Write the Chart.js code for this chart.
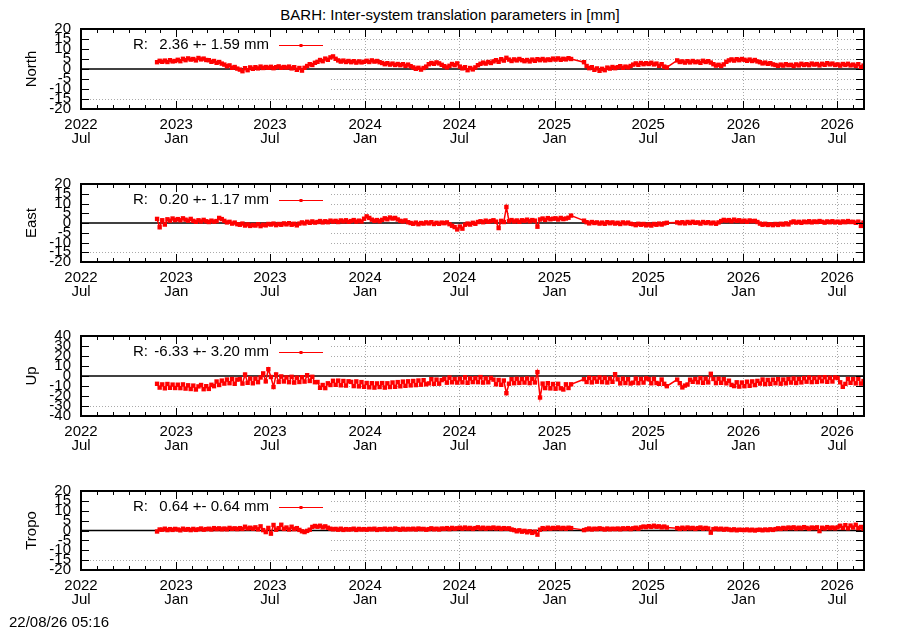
<!DOCTYPE html>
<html>
<head>
<meta charset="utf-8">
<title>BARH inter-system translation parameters</title>
<script src="https://cdn.jsdelivr.net/npm/chart.js@4.4.0/dist/chart.umd.min.js"></script>
<style>
  body { margin: 0; background: #fff; font-family: "Liberation Sans", Arial, sans-serif; }
  #page { position: relative; width: 900px; height: 630px; overflow: hidden; background: #fff; }
  .title { position: absolute; top: 6px; left: 0; width: 900px; text-align: center; font-size: 15px; line-height: 17px; color: #000; }
  .stamp { position: absolute; left: 9px; top: 613px; font-size: 15px; line-height: 17px; color: #000; }
  .panel { position: absolute; left: 0; width: 900px; }
</style>
</head>
<body>
<div id="page">
  <div class="title">BARH: Inter-system translation parameters in [mm]</div>
  <div class="panel" id="p0"><canvas id="c0"></canvas></div>
  <div class="panel" id="p1"><canvas id="c1"></canvas></div>
  <div class="panel" id="p2"><canvas id="c2"></canvas></div>
  <div class="panel" id="p3"><canvas id="c3"></canvas></div>
  <div class="stamp">22/08/26 05:16</div>
</div>
<script>
// x axis: days since 2022-07-01
const xMax = 1513;
const tickDays = [0, 184, 365, 549, 731, 915, 1096, 1280, 1461];
const tickYears = ['2022', '2023', '2023', '2024', '2024', '2025', '2025', '2026', '2026'];
const tickMonths = ['Jul', 'Jan', 'Jul', 'Jan', 'Jul', 'Jan', 'Jul', 'Jan', 'Jul'];

// sampled every 5 days, with two data gaps (Feb 2025, Aug 2025)
const segments = [[147, 947], [972, 1132], [1152, 1512]];
const sampleDays = [];
segments.forEach(([a, b]) => { for (let d = a; d <= b; d += 5) sampleDays.push(d); });

const panelNames = ['North', 'East', 'Up', 'Tropo'];
const keyTexts = ['2.36 +- 1.59 mm', '0.20 +- 1.17 mm', '-6.33 +- 3.20 mm', '0.64 +- 0.64 mm'];
const yRanges = [[-20, 20, 5], [-20, 20, 5], [-40, 40, 10], [-20, 20, 5]];

const north = [
  3.4, 4.1,
  3.6, 4.2, 3.5, 4.4, 3.8, 4.0,
  4.6, 3.9, 5.1, 4.4, 5.3, 4.7,
  5.0, 4.3, 5.5, 4.8, 5.2, 4.5,
  4.4, 3.6, 4.0, 3.1, 3.5, 2.7,
  2.2, 1.4, 1.8, 0.6, 1.0, 0.2,
  -0.3, -1.1, 0.4, -0.6, 0.8, 0.1,
  0.9, 0.3, 1.2, 0.5, 1.0, 0.6,
  1.1, 0.4, 0.9, 1.3, 0.6, 1.0,
  0.7, 1.2, 0.3, 0.9, -0.4, 0.5,
  -0.8, 0.6, 1.5, 2.4, 2.0, 3.1,
  3.6, 4.5, 3.9, 5.2, 4.6, 5.8, 6.3,
  5.1, 4.3, 3.7, 4.2, 3.5, 4.0,
  3.4, 3.9, 3.2, 3.8, 3.3, 3.6,
  4.1, 3.5, 4.3, 3.7, 4.0, 3.4,
  3.0, 2.4, 2.9, 2.2, 2.7, 2.0,
  2.5, 1.9, 2.4, 1.6, 2.2, 1.4,
  0.8, 0.1, 0.6, -0.3, 0.5, 1.2,
  2.4, 3.0, 2.6, 3.3, 2.8, 2.1,
  1.4, 0.8, 1.6, 2.5, 1.9, 2.8,
  1.2, 0.3, 0.9, -0.6, 0.5, -0.2,
  0.8, 1.9, 2.6, 3.2, 2.7, 3.5, 3.0,
  3.8, 4.4, 3.6, 4.9, 4.2, 5.6,
  4.7, 4.0, 4.8, 4.3, 5.0, 4.4,
  3.9, 4.5, 3.8, 4.7, 4.1, 4.9,
  4.4, 5.0, 4.3, 4.8, 4.5, 5.2,
  4.7, 5.3, 4.6, 5.1, 4.8, 5.4,
  5.0,
  3.4,
  1.5, 0.4, 0.9, -0.4, 0.3, -0.9,
  0.1, -0.6, 0.7, 0.2, 1.0, 0.4,
  0.9, 1.4, 0.6, 1.2, 0.8, 1.5,
  2.2, 2.8, 2.1, 3.0, 2.4, 2.9,
  2.5, 3.1, 2.3, 2.7, 1.6, 2.4,
  1.2, 0.8,
  4.3, 3.5,
  3.8, 3.2, 3.9, 3.3, 4.0, 3.4,
  3.7, 3.1, 4.1, 3.5, 3.9, 3.2,
  2.4, 1.7, 2.1, 1.5, 2.3, 3.6,
  4.3, 4.8, 4.2, 4.9, 4.4, 5.0,
  4.6, 4.1, 4.7, 4.0, 4.5, 3.8,
  3.4, 2.8, 3.2, 2.6, 2.9, 2.3,
  2.0, 1.6, 2.2, 1.7, 2.4, 1.9,
  2.1, 1.5, 2.3, 1.8, 2.6, 2.0,
  2.4, 1.9, 2.7, 2.2, 2.5, 1.8,
  2.6, 2.1, 2.9, 2.3, 2.7, 2.0,
  2.3, 1.7, 2.5, 2.0, 2.6, 1.8,
  2.2, 1.6, 2.4, 0.9, 1.7
];

const east = [
  2.1, -2.2,
  1.4, -0.8, 1.9, 1.2, 2.3, 1.5,
  2.0, 1.4, 2.4, 1.7, 1.2, 2.1,
  1.1, 0.6, 1.4, 0.8, 1.6, 0.9,
  0.5, 1.2, 0.7, 1.0, 2.6, 2.0,
  1.1, 0.3, 0.6, -0.3, 0.2, -0.6,
  -0.9, -0.3, -1.3, -0.7, -1.5, -1.0,
  -1.3, -0.6, -1.6, -0.9, -1.2, -0.5,
  -0.8, -0.3, -1.1, -0.5, -0.9, -0.2,
  -0.7, -0.1, -0.9, -0.4, -1.2, -0.3,
  0.3, -0.2, 0.6, 0.1, 0.8, 0.2,
  0.5, 1.0, 0.3, 0.9, 0.4, 1.2, 0.7,
  1.1, 0.5, 1.3, 0.8, 1.4, 0.6,
  1.0, 1.5, 0.7, 1.2, 0.8, 2.2,
  3.4, 2.6, 1.7, 1.1, 1.5, 0.9,
  1.6, 2.4, 1.9, 2.8, 2.3, 2.6,
  1.8, 1.1, 0.8, 1.3, 0.4, 0.0,
  -0.4, 0.2, -0.6, 0.0, -0.3, 0.3,
  -0.2, 0.4, -0.5, 0.1, -0.4, 0.2,
  -0.1, 0.3, -0.6, -1.4, -2.1, -3.3,
  -1.8, -2.9, -0.9, -0.3, -0.8, 0.1,
  -0.4, 0.5, 0.9, 0.4, 1.2, 0.6, 1.0,
  1.4, 0.7, -2.6, 1.1, 0.5, 8.2,
  0.9, 1.5, 0.8, 1.3, 0.6, 1.4,
  1.1, 1.7, 0.9, 1.5, 1.2, -1.9,
  1.8, 2.3, 1.6, 2.5, 1.9, 2.2,
  2.4, 1.8, 2.6, 2.0, 2.3, 2.7,
  3.8,
  1.2,
  0.4, -0.2, 0.5, 0.0, 0.3, -0.3,
  0.2, -0.4, 0.4, -0.1, 0.3, -0.3,
  0.1, -0.5, 0.3, -0.2, 0.2, -0.4,
  -0.6, -1.1, -0.4, -0.9, -0.5, -1.2,
  -0.7, -1.3, -0.5, -0.9, -0.3, -0.8,
  -0.2, 0.1,
  0.3, -0.1,
  0.4, -0.2, 0.5, 0.0, 0.6, 0.1,
  0.3, -0.3, 0.5, 0.0, 0.4, -0.2,
  0.2, -0.4, 0.3, 1.0, 1.6, 1.2,
  1.5, 0.9, 1.7, 1.1, 1.4, 0.8,
  1.2, 0.6, 1.3, 0.9, 1.1, 0.5,
  -0.3, -0.9, -0.4, -1.0, -0.6, -1.1,
  -0.5, -1.0, -0.4, -0.8, -0.2, -0.7,
  0.3, 0.8, 0.2, 0.6, 0.1, 0.7,
  0.4, 0.9, 0.3, 0.8, 0.5, 1.0,
  0.6, 0.2, 0.8, 0.4, 0.9, 0.3,
  0.7, 0.2, 0.8, 0.4, 1.0, 0.5,
  0.6, 0.1, 0.7, -1.5, 0.2
];

const up = [
  -7.8, -11.6,
  -8.4, -12.3, -8.0, -11.8, -8.6, -12.0,
  -8.7, -12.1, -8.4, -12.6, -9.3, -13.0,
  -9.6, -13.5, -10.4, -9.0, -13.2, -10.2,
  -12.9, -8.8, -10.2, -5.5, -9.0, -4.6,
  -7.6, -3.5, -7.2, -3.0, -7.8, -3.6,
  -3.2, -7.6, 1.5, -6.8, -2.5, -7.3,
  -2.6, -6.2, -1.5, 2.6, -5.4, 6.8,
  -1.0, -11.0, 1.6, -5.9, -0.4, -5.5,
  -1.4, -6.2, -0.8, -6.6, -1.7, -6.0,
  -1.2, -5.6, 0.8, -5.0, -0.8, -6.2,
  -6.0, -11.8, -9.0, -12.1, -7.3, -9.0, -4.8,
  -8.8, -4.6, -9.3, -5.0, -9.6, -5.3,
  -5.9, -10.1, -5.4, -10.4, -6.1, -10.8,
  -7.0, -11.3, -7.2, -11.6, -7.4, -11.0,
  -7.1, -11.6, -7.3, -11.0, -6.5, -10.8,
  -6.1, -10.3, -5.6, -9.8, -5.3, -9.4,
  -5.0, -9.1, -4.5, -8.7, -4.2, -8.3,
  -7.4, -3.2, -7.9, -3.6, -7.7, -4.1,
  -2.8, -6.7, -1.6, -6.3, -3.0, -6.6,
  -2.6, -6.4, -1.3, -6.8, -2.4, -6.1,
  -2.2, -6.2, -1.1, -6.6, -2.3, -6.3, -1.9,
  -3.6, -8.3, -4.0, -8.8, -4.5, -17.2,
  -7.7, -3.2, -7.2, -2.7, -6.9, -3.0,
  -6.6, -2.4, -7.1, -2.8, -6.5, 3.9,
  -21.5, -7.6, -12.1, -7.2, -12.4, -8.0,
  -12.7, -7.8, -12.3, -13.5, -8.3, -12.0,
  -8.3,
  -3.2,
  -6.0, -1.8, -6.4, -2.2, -5.7, -1.5,
  -6.1, -1.9, -6.5, -2.4, -5.8, 1.8,
  -3.3, -7.4, -2.6, -7.0, -3.1, -7.5,
  -6.7, -2.5, -7.2, -2.9, -6.6, -2.3,
  -3.2, -7.3, -2.8, -7.0, -7.8, -3.5,
  -7.8, -10.2,
  -3.6, -7.2,
  -11.4, -9.6, -8.5, -3.7, -5.8, -3.1,
  -6.3, -2.1, -6.8, -2.6, -6.4, 2.2,
  -3.0, -7.1, -2.7, -6.8, -3.2, -7.3,
  -4.7, -8.9, -10.1, -6.3, -10.6, -6.5,
  -10.2, -5.7, -9.8, -5.4, -9.1, -4.9,
  -7.6, -3.5, -8.1, -3.9, -7.8, -3.6,
  -7.2, -3.1, -7.7, -3.5, -7.3, -3.0,
  -6.6, -2.5, -7.0, -2.8, -6.4, -2.1,
  -5.7, -1.6, -6.1, -2.0, -5.9, -1.5,
  -5.3, -1.2, -5.8, -1.7, -5.5, -1.4,
  -2.1, -6.3, -10.8, -7.9, -2.9, -6.8,
  -3.1, -7.4, -2.7, -7.6, -5.0
];

const tropo = [
  -0.5, 0.5,
  0.4, 0.9, 0.2, 0.7, 0.3, 0.8,
  0.5, 0.1, 0.9, 0.4, 0.7, 0.2,
  0.8, 0.3, 0.6, 1.0, 0.4, 0.7,
  0.9, 0.5, 1.2, 0.7, 1.1, 0.6,
  1.0, 0.6, 1.3, 0.8, 1.1, 0.7,
  1.2, 0.8, 1.9, 1.0, 1.4, 0.9,
  1.6, 0.6, 2.1, 0.2, -0.8, 1.3,
  -1.6, 2.8, 0.4, 1.2, 2.9, 0.8,
  1.5, 0.5, 1.9, 0.7, 1.2, 0.3,
  -0.4, -0.8, -0.2, 0.4, 1.8, 2.3,
  1.9, 2.4, 1.6, 2.1, 1.4, 0.9, 0.6,
  0.8, 0.4, 0.9, 0.3, 0.7, 0.5,
  0.6, 0.9, 0.3, 0.8, 0.5, 0.7,
  0.4, 0.8, 0.6, 0.9, 0.3, 0.7,
  0.6, 0.9, 0.4, 0.8, 0.5, 1.0,
  0.7, 0.4, 0.9, 0.5, 0.8, 0.6,
  0.9, 0.5, 1.0, 0.7, 0.8, 0.4,
  0.7, 1.1, 0.6, 0.9, 0.5, 1.0,
  0.8, 1.2, 0.7, 1.3, 0.9, 1.1,
  1.4, 0.9, 1.5, 1.0, 1.3, 0.8,
  1.2, 1.6, 1.0, 1.4, 0.9, 1.3, 1.1,
  1.5, 1.0, 1.3, 0.8, 1.2, 0.9,
  1.1, 0.5, 0.2, -0.4, 0.1, -0.6,
  -0.2, -0.9, -0.4, -1.2, -0.6, -2.1,
  0.4, 1.2, 0.8, 1.4, 0.9, 1.3,
  1.1, 1.5, 1.0, 1.3, 0.9, 1.4,
  1.2,
  0.2,
  0.6, 1.0, 0.5, 0.9, 0.7, 1.1,
  0.8, 0.5, 1.0, 0.6, 0.9, 0.7,
  1.0, 0.6, 1.1, 0.8, 1.2, 0.7,
  1.1, 1.4, 0.9, 1.6, 2.0, 1.7,
  2.2, 1.8, 2.4, 1.9, 2.1, 1.6,
  2.0, 1.5,
  1.2, 0.8,
  1.4, 0.9, 1.5, 1.1, 1.3, 0.8,
  1.2, 1.5, 0.9, 1.3, 1.0, -1.1,
  0.7, 1.0, 0.6, 0.9, 0.4, 0.8,
  0.5, 0.2, 0.6, 0.1, 0.4, 0.3,
  0.2, 0.5, 0.1, 0.4, 0.0, 0.3,
  0.4, 0.1, 0.5, 0.2, 0.6, 0.3,
  0.7, 1.1, 0.8, 1.3, 1.0, 1.5,
  1.2, 1.6, 1.0, 1.4, 1.1, 1.7,
  1.3, 0.9, 1.5, 1.2, 1.6, -0.3,
  1.4, 1.0, 1.7, 1.2, 1.5, 1.1,
  1.6, 2.4, 1.3, 2.7, 1.1, 2.5,
  1.5, 2.9, 1.2, 1.8, 0.9
];

const seriesList = [north, east, up, tropo];

// page layout (pixels)
const plotTops = [29, 184, 336, 491];
const plotHeights = [80, 78, 80, 79];
const PAD_TOP = 6;
const X_AXIS_H = 45;
const FONT_FAMILY = '"Liberation Sans", Arial, sans-serif';
const FONT_SIZE = 15;

// month starts for minor ticks
const monthDays = [];
for (let m = 0; m <= 50; m++) {
  const d = (Date.UTC(2022, 6 + m, 1) - Date.UTC(2022, 6, 1)) / 86400000;
  if (d <= xMax) monthDays.push(d);
}

const framePlugin = {
  id: 'frame',
  beforeDatasetsDraw(chart, args, opts) {
    const { ctx, chartArea: a, scales: { x, y } } = chart;
    const keyRight = 331;
    const keyBottom = a.top + 65;
    ctx.save();
    // dotted grid, hidden behind the key box
    ctx.strokeStyle = '#aaaaaa';
    ctx.lineWidth = 1;
    ctx.setLineDash([1, 2]);
    ctx.beginPath();
    tickDays.forEach(d => {
      const px = Math.round(x.getPixelForValue(d)) + 0.5;
      if (px < keyRight || px > a.right - 3) return;
      ctx.moveTo(px, a.top);
      ctx.lineTo(px, a.bottom);
    });
    y.ticks.forEach(t => {
      if (t.value <= y.min || t.value >= y.max || t.value === 0) return;
      const py = Math.round(y.getPixelForValue(t.value)) + 0.5;
      ctx.moveTo(py < keyBottom ? keyRight : a.left, py);
      ctx.lineTo(a.right, py);
    });
    ctx.stroke();
    ctx.setLineDash([]);
    // zero line
    const y0 = y.getPixelForValue(0);
    ctx.strokeStyle = '#000';
    ctx.lineWidth = 1.5;
    ctx.beginPath();
    ctx.moveTo(a.left, y0);
    ctx.lineTo(a.right, y0);
    ctx.stroke();
    ctx.restore();
  },
  afterDraw(chart, args, opts) {
    const { ctx, chartArea: a, scales: { x, y } } = chart;
    ctx.save();
    // inward ticks on all four sides
    ctx.strokeStyle = '#000';
    ctx.lineWidth = 1;
    ctx.beginPath();
    monthDays.forEach(d => {
      if (d <= 0 || d >= xMax) return;
      const px = Math.round(x.getPixelForValue(d)) + 0.5;
      const len = tickDays.includes(d) ? 8 : 4;
      ctx.moveTo(px, a.bottom);
      ctx.lineTo(px, a.bottom - len);
      ctx.moveTo(px, a.top);
      ctx.lineTo(px, a.top + len);
    });
    y.ticks.forEach(t => {
      if (t.value <= y.min || t.value >= y.max) return;
      const py = Math.round(y.getPixelForValue(t.value)) + 0.5;
      ctx.moveTo(a.left, py);
      ctx.lineTo(a.left + 8, py);
      ctx.moveTo(a.right, py);
      ctx.lineTo(a.right - 8, py);
    });
    ctx.stroke();
    // frame
    ctx.lineWidth = 2;
    ctx.strokeRect(a.left, a.top, a.right - a.left, a.bottom - a.top);

    // key
    const ky = a.top + 16;
    ctx.fillStyle = '#000';
    ctx.font = FONT_SIZE + 'px ' + FONT_FAMILY;
    ctx.textBaseline = 'middle';
    ctx.textAlign = 'left';
    ctx.fillText('R:', 133, ky);
    ctx.textAlign = 'right';
    ctx.fillText(opts.key, 269, ky);
    ctx.strokeStyle = '#ff0000';
    ctx.lineWidth = 1;
    ctx.beginPath();
    ctx.moveTo(279, ky + 0.5);
    ctx.lineTo(323, ky + 0.5);
    ctx.stroke();
    ctx.fillStyle = '#ff0000';
    ctx.fillRect(299.5, ky - 1, 3, 3);

    // y axis title
    ctx.fillStyle = '#000';
    ctx.translate(32, (a.top + a.bottom) / 2);
    ctx.rotate(-Math.PI / 2);
    ctx.textAlign = 'center';
    ctx.fillText(opts.label, 0, 0);
    ctx.restore();
  }
};

function makePanel(i) {
  const holder = document.getElementById('p' + i);
  holder.style.top = (plotTops[i] - PAD_TOP) + 'px';
  holder.style.height = (PAD_TOP + plotHeights[i] + X_AXIS_H) + 'px';
  const [ymin, ymax, ystep] = yRanges[i];
  const values = seriesList[i];
  const points = sampleDays.map((d, k) => ({ x: d, y: values[k] }));

  return new Chart(document.getElementById('c' + i), {
    type: 'line',
    data: {
      datasets: [{
        data: points,
        borderColor: '#ff0000',
        backgroundColor: '#ff0000',
        borderWidth: 1.5,
        pointStyle: 'rect',
        pointRadius: 3.1,
        pointBorderWidth: 0,
        pointBackgroundColor: '#ff0000',
        tension: 0,
        fill: false
      }]
    },
    options: {
      responsive: true,
      maintainAspectRatio: false,
      animation: false,
      events: [],
      layout: { padding: { top: PAD_TOP, right: 36, bottom: 0, left: 0 } },
      plugins: {
        legend: { display: false },
        tooltip: { enabled: false },
        frame: { label: panelNames[i], key: keyTexts[i] }
      },
      scales: {
        x: {
          type: 'linear',
          min: 0,
          max: xMax,
          grid: { display: false, drawTicks: false },
          border: { display: false },
          afterFit: s => {
            s.height = X_AXIS_H;
            s.paddingLeft = 0;
            s.paddingRight = 0;
          },
          afterBuildTicks: s => { s.ticks = tickDays.map(v => ({ value: v })); },
          ticks: {
            autoSkip: false,
            maxRotation: 0,
            minRotation: 0,
            padding: 9,
            color: '#000',
            font: { family: FONT_FAMILY, size: FONT_SIZE, lineHeight: 0.93 },
            callback: (v, idx) => [tickYears[idx], tickMonths[idx]]
          }
        },
        y: {
          type: 'linear',
          min: ymin,
          max: ymax,
          grid: { display: false, drawTicks: false },
          border: { display: false },
          afterFit: s => {
            s.width = 81;
            s.paddingTop = 0;
            s.paddingBottom = 0;
          },
          ticks: {
            stepSize: ystep,
            autoSkip: false,
            padding: 10,
            color: '#000',
            font: { family: FONT_FAMILY, size: FONT_SIZE }
          }
        }
      }
    },
    plugins: [framePlugin]
  });
}

for (let i = 0; i < 4; i++) {
  if (seriesList[i].length !== sampleDays.length) {
    console.warn(panelNames[i] + ': ' + seriesList[i].length + ' values for ' + sampleDays.length + ' days');
  }
  makePanel(i);
}
</script>
</body>
</html>
